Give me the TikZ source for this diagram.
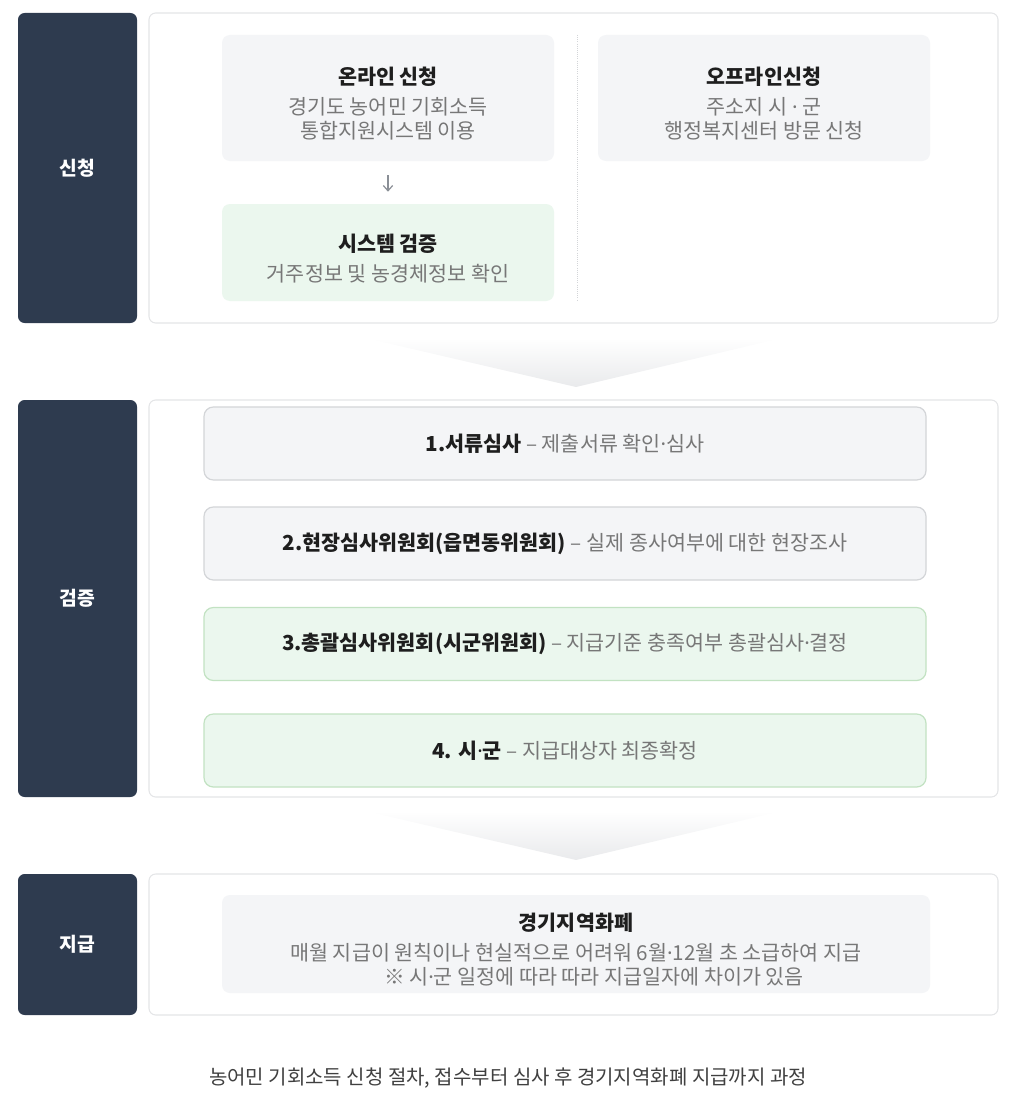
\documentclass[tikz,border=0pt]{standalone}
\usepackage{fontspec}
\setmainfont{Noto Sans CJK KR}
\newfontfamily\latinfont{Noto Sans}
\usetikzlibrary{arrows.meta, positioning, calc}
\definecolor{stagedark}{HTML}{2E3B4F}
\definecolor{panelline}{HTML}{E4E5E7}
\definecolor{boxgray}{HTML}{F4F5F7}
\definecolor{boxgrayline}{HTML}{D3D5D8}
\definecolor{boxgreen}{HTML}{EBF7EE}
\definecolor{boxgreenline}{HTML}{C2E2C2}
\definecolor{textgray}{HTML}{777777}
\definecolor{textdark}{HTML}{1E1E1E}
\definecolor{chevgray}{HTML}{E9EAEC}
\definecolor{arrowgray}{HTML}{8A8F96}
\newdimen\pxu \pxu=0.75pt
\newcommand{\boxtitle}[1]{\rule{0pt}{22pt}\textcolor{textdark}{\bfseries #1}}
\newcommand{\steptitle}[1]{\textcolor{textdark}{\bfseries #1}}
\newcommand{\mdot}{{\latinfont ·}}

\begin{document}
\begin{tikzpicture}[
    x=0.75pt, y=-0.75pt,
    stage/.style={rectangle, rounded corners=5pt, fill=stagedark, text=white, inner sep=0pt, minimum width=119\pxu, font=\fontsize{14.5}{17}\selectfont\bfseries},
    panel/.style={rectangle, rounded corners=5pt, draw=panelline, fill=white, line width=0.8pt, inner sep=0pt, minimum width=849\pxu},
    infobox/.style={rectangle, rounded corners=6pt, fill=#1, inner sep=0pt, align=center, text=textgray, font=\fontsize{15.5}{18}\selectfont},
    stepbox/.style={rectangle, rounded corners=7pt, fill=#1, inner sep=0pt, minimum width=722\pxu, minimum height=73\pxu, line width=0.9pt, text=textgray, font=\fontsize{15.5}{18}\selectfont},
    arrow/.style={-{Straight Barb[length=4pt, width=7pt]}, line width=0.9pt, color=arrowgray}
]
\useasboundingbox (0,0) rectangle (1015,1099);

% Stage labels
\node[stage, minimum height=310\pxu] (apply) at (77.5,168) {신청};
\node[stage, minimum height=397\pxu] (verify) at (77.5,598.5) {검증};
\node[stage, minimum height=141\pxu] (pay) at (77.5,944.5) {지급};

% Panels
\node[panel, minimum height=310\pxu] (applypanel) at (573.5,168) {};
\node[panel, minimum height=397\pxu] (verifypanel) at (573.5,598.5) {};
\node[panel, minimum height=141\pxu] (paypanel) at (573.5,944.5) {};

% Application
\node[infobox=boxgray, minimum width=332\pxu, minimum height=126\pxu] (online) at (388,98)
    {\boxtitle{온라인 신청}\\[4.5pt]경기도 농어민 기회소득\\통합지원시스템 이용};
\node[infobox=boxgreen, minimum width=332\pxu, minimum height=97\pxu] (system) at (388,252.5)
    {\boxtitle{시스템 검증}\\[4.5pt]거주정보 및 농경체정보 확인};
\node[infobox=boxgray, minimum width=332\pxu, minimum height=126\pxu] (offline) at (764,98)
    {\boxtitle{오프라인신청}\\[4.5pt]주소지 시 \mdot{} 군\\행정복지센터 방문 신청};
\draw[arrow, shorten <=14\pxu, shorten >=12\pxu] (online) -- (system);

% Divider
\coordinate (divtop) at (577,35);
\coordinate (divbot) at (577,300);
\draw[densely dotted, color=boxgrayline, line width=0.6pt] (divtop) -- (divbot);

% Chevrons
\shade[top color=white, bottom color=chevgray] (365,338) -- (782,338) -- (576,387) -- cycle;
\shade[top color=white, bottom color=chevgray] (365,811) -- (782,811) -- (576,860) -- cycle;

% Verification steps
\node[stepbox=boxgray, draw=boxgrayline] (step1) at (565,443.5)
    {\steptitle{1.서류심사} – 제출서류 확인\mdot 심사};
\node[stepbox=boxgray, draw=boxgrayline] (step2) at (565,543.5)
    {\steptitle{2.현장심사위원회(읍면동위원회)} – 실제 종사여부에 대한 현장조사};
\node[stepbox=boxgreen, draw=boxgreenline] (step3) at (565,644)
    {\steptitle{3.총괄심사위원회(시군위원회)} – 지급기준 충족여부 총괄심사\mdot 결정};
\node[stepbox=boxgreen, draw=boxgreenline] (step4) at (565,750.5)
    {\steptitle{4. 시\mdot 군} – 지급대상자 최종확정};

% Payment
\node[infobox=boxgray, minimum width=708\pxu, minimum height=98\pxu] (currency) at (576,944)
    {\boxtitle{경기지역화폐}\\[4.5pt]매월 지급이 원칙이나 현실적으로 어려워 6월\mdot 12월 초 소급하여 지급\\\hspace*{27pt}※ 시\mdot 군 일정에 따라 따라 지급일자에 차이가 있음};

% Caption
\node[font=\fontsize{15}{18}\selectfont, color=textdark!85] (caption) at (508,1078)
    {농어민 기회소득 신청 절차, 접수부터 심사 후 경기지역화폐 지급까지 과정};

\end{tikzpicture}
\end{document}
